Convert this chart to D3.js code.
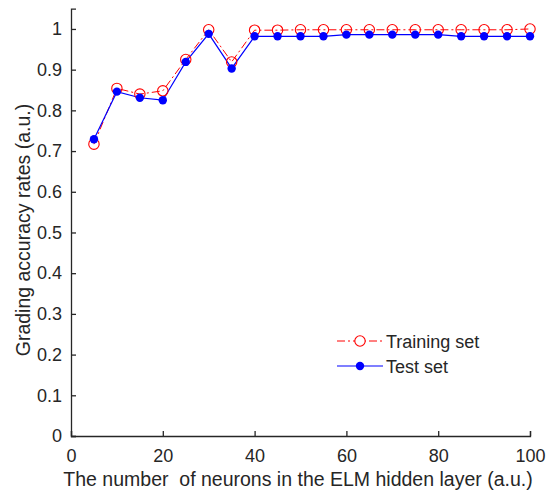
<!DOCTYPE html>
<html><head><meta charset="utf-8">
<script src="https://cdn.jsdelivr.net/npm/d3@7"></script>
<style>body{margin:0;background:#fff}svg{display:block}text{font-family:"Liberation Sans",Arial,sans-serif;fill:#262626}</style>
</head><body><svg id="c" width="546" height="493"></svg>
<script>
const neurons = [5,10,15,20,25,30,35,40,45,50,55,60,65,70,75,80,85,90,95,100];
const training = [0.717,0.854,0.840,0.848,0.925,0.998,0.919,0.997,0.997,0.998,0.998,0.998,0.998,0.998,0.998,0.998,0.998,0.998,0.998,1.0];
const test = [0.729,0.846,0.831,0.825,0.919,0.988,0.903,0.982,0.982,0.982,0.982,0.986,0.986,0.986,0.986,0.986,0.982,0.982,0.982,0.982];
const xTicks = [0,20,40,60,80,100];
const yTicks = [0,0.1,0.2,0.3,0.4,0.5,0.6,0.7,0.8,0.9,1];
const seriesNames = ["Training set","Test set"];

const svg = d3.select("#c");
const x = d3.scaleLinear().domain([0,100]).range([71,530]);
const y = d3.scaleLinear().domain([0,1.05]).range([436,8.6]);

const xAxis = d3.axisBottom(x).tickValues(xTicks).tickSize(-5).tickPadding(9).tickFormat(d3.format("d"));
const yAxis = d3.axisLeft(y).tickValues(yTicks).tickSize(-5).tickPadding(9).tickFormat(d=>d===0?"0":d===1?"1":d3.format(".1f")(d));

const gx = svg.append("g").attr("transform","translate(0,436)").call(xAxis);
const gy = svg.append("g").attr("transform","translate(71,0)").call(yAxis);
[gx,gy].forEach(g=>{
  g.select(".domain").attr("stroke","#262626").attr("stroke-width",1.3);
  g.selectAll(".tick line").attr("stroke","#262626").attr("stroke-width",1.3);
  g.selectAll("text").attr("font-size",18).attr("font-family","Liberation Sans, Arial, sans-serif").attr("fill","#262626");
});
gx.selectAll("text").attr("y",26).attr("dy",null);

svg.append("text").attr("x",298).attr("y",486).attr("text-anchor","middle").attr("font-size",19.5)
  .attr("xml:space","preserve").style("white-space","pre")
  .text("The number  of neurons in the ELM hidden layer (a.u.)");
svg.append("text").attr("transform","translate(30,230) rotate(-90)").attr("text-anchor","middle").attr("font-size",19.5)
  .text("Grading accuracy rates (a.u.)");

const line = d3.line().x((d,i)=>x(neurons[i])).y(d=>y(d));
svg.append("path").datum(training).attr("d",line).attr("fill","none").attr("stroke","#ff0000").attr("stroke-width",1).attr("stroke-dasharray","8,3,2,3");
svg.append("path").datum(test).attr("d",line).attr("fill","none").attr("stroke","#0000ff").attr("stroke-width",1.2);
svg.append("g").selectAll("circle").data(training).join("circle")
  .attr("cx",(d,i)=>x(neurons[i])).attr("cy",d=>y(d)).attr("r",5.2).attr("fill","none").attr("stroke","#ff0000").attr("stroke-width",1.1);
svg.append("g").selectAll("circle").data(test).join("circle")
  .attr("cx",(d,i)=>x(neurons[i])).attr("cy",d=>y(d)).attr("r",4.2).attr("fill","#0000ff");

// legend
const lg = svg.append("g");
lg.append("line").attr("x1",337).attr("x2",383).attr("y1",341).attr("y2",341).attr("stroke","#ff0000").attr("stroke-width",1).attr("stroke-dasharray","8,3,2,3");
lg.append("circle").attr("cx",360).attr("cy",341).attr("r",5.2).attr("fill","#fff").attr("stroke","#ff0000").attr("stroke-width",1.1);
lg.append("line").attr("x1",337).attr("x2",383).attr("y1",366).attr("y2",366).attr("stroke","#0000ff").attr("stroke-width",1.2);
lg.append("circle").attr("cx",360).attr("cy",366).attr("r",4.2).attr("fill","#0000ff");
lg.append("text").attr("x",386).attr("y",348).attr("font-size",18).attr("fill","#000").text(seriesNames[0]);
lg.append("text").attr("x",386).attr("y",373).attr("font-size",18).attr("fill","#000").text(seriesNames[1]);
</script></body></html>
